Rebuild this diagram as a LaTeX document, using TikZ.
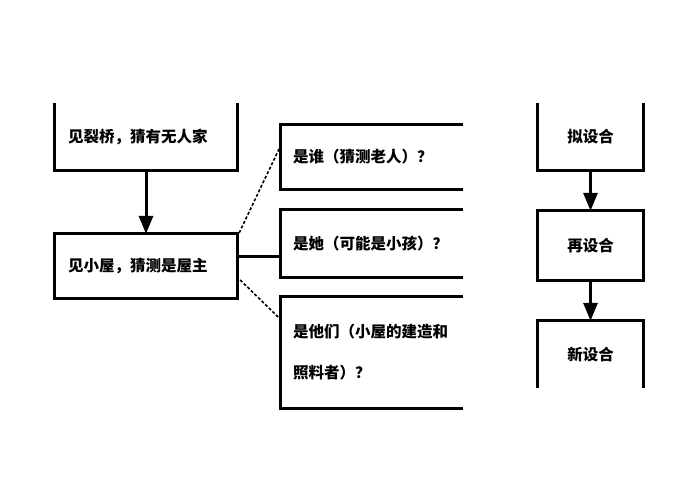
\documentclass[tikz,border=0pt]{standalone}
\usepackage{fontspec}
\newfontfamily\cjk{Noto Sans CJK SC}[BoldFont=* Black]
\usetikzlibrary{arrows.meta,calc}
\begin{document}
\begin{tikzpicture}[x=1pt,y=-1pt,
  box/.style={inner xsep=13pt, inner ysep=0pt, align=left, font=\cjk\bfseries\fontsize{15.5}{41}\selectfont},
  edge/.style={line width=3pt},
  link/.style={line width=1.6pt, densely dashed},
  arr/.style={line width=3pt, -{Triangle[width=14pt,length=18pt]}}]
\useasboundingbox[fill=white] (0,0) rectangle (698,493);
% left column
\node[box, text width=156pt, minimum height=67pt] (a) at (146,136.5) {见裂桥，猜有无人家};
\node[box, text width=156pt, minimum height=64pt] (b) at (146,266) {见小屋，猜测是屋主};
% middle column
\node[box, text width=157pt, minimum height=64pt, anchor=west] (c1) at (280,157) {是谁（猜测老人）？};
\node[box, text width=157pt, minimum height=67pt, anchor=west] (c2) at (280,243.5) {是她（可能是小孩）？};
\node[box, text width=157pt, minimum height=111pt, anchor=west] (c3) at (280,352.5) {是他们（小屋的建造和\\照料者）？};
% right column
\node[box, align=center, text width=79pt, minimum height=67pt] (d1) at (590.5,136.5) {拟设合};
\node[box, align=center, text width=79pt, minimum height=69pt] (d2) at (590.5,245.5) {再设合};
\node[box, align=center, text width=79pt, minimum height=67pt] (d3) at (590.5,354.5) {新设合};
% box outlines (open sides as in the picture)
\draw[edge] (a.north west) -- (a.south west) -- (a.south east) -- (a.north east);
\draw[edge] (b.north west) rectangle (b.south east);
\draw[edge] (c1.north east) -- (c1.north west) -- (c1.south west) -- (c1.south east);
\draw[edge] (c2.north east) -- (c2.north west) -- (c2.south west) -- (c2.south east);
\draw[edge] (c3.north east) -- (c3.north west) -- (c3.south west) -- (c3.south east);
\draw[edge] (d1.north west) -- (d1.south west) -- (d1.south east) -- (d1.north east);
\draw[edge] (d2.north west) rectangle (d2.south east);
\draw[edge] (d3.south west) -- (d3.north west) -- (d3.north east) -- (d3.south east);
% arrows
\draw[arr] (a.south) -- (b.north);
\draw[arr] (d1.south) -- (d2.north);
\draw[arr] (d2.south) -- (d3.north);
% links from b
\coordinate (bm) at ($(b.east)+(0,-10)$);
\coordinate (cm) at (bm -| c2.west);
\draw[link] ($(b.north east)+(2,-1)$) -- ($(c1.west)+(0,-10)$);
\draw[edge] (bm) -- (cm);
\draw[link] ($(b.east)+(3,14)$) -- ($(c3.north west)+(0,22)$);
\end{tikzpicture}
\end{document}
